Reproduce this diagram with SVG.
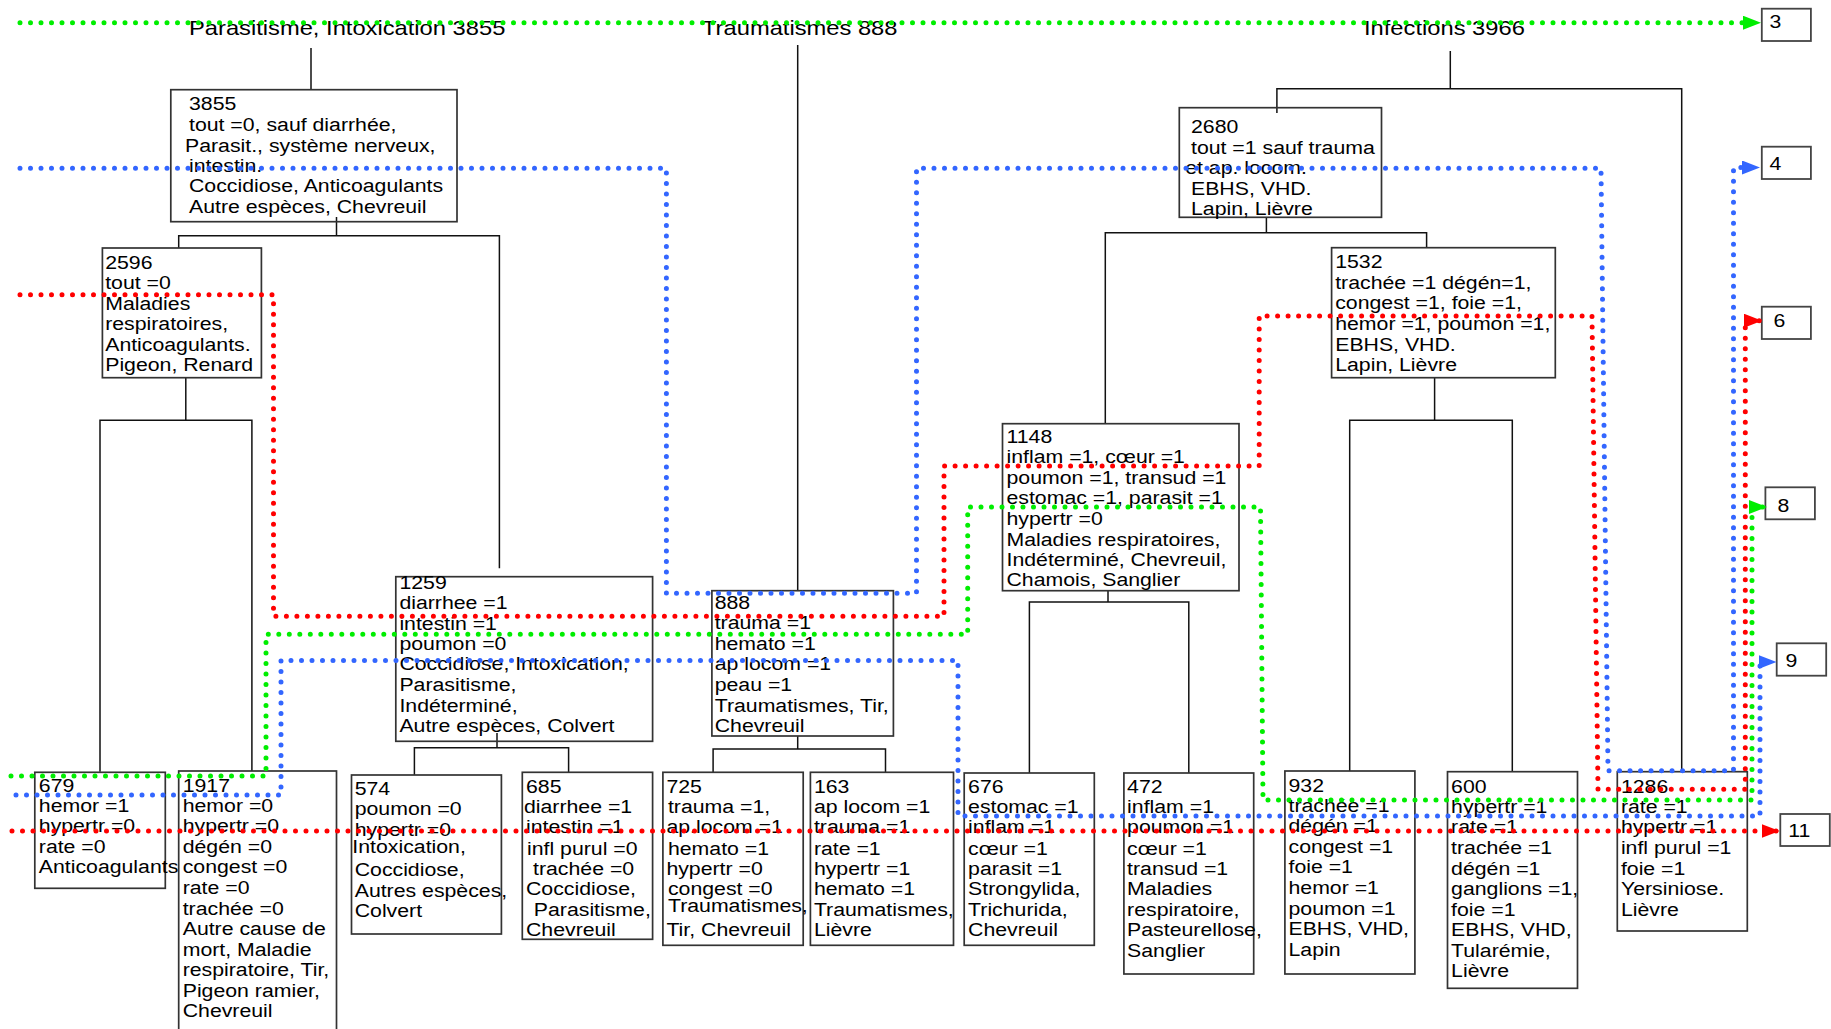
<svg xmlns="http://www.w3.org/2000/svg" width="1831" height="1029" viewBox="0 0 1831 1029">
<style>
.t{font-family:"Liberation Sans",Arial,sans-serif;font-size:19px;fill:#000}
.ttl{font-family:"Liberation Sans",Arial,sans-serif;font-size:21px;fill:#000}
.box{fill:none;stroke:#333;stroke-width:1.7}
.lbl{fill:#fff;stroke:#444;stroke-width:1.8}
.edge{fill:none;stroke:#111;stroke-width:1.5}
.dot{fill:none;stroke-width:5;stroke-linecap:round;stroke-dasharray:0 10.5}
.g{stroke:#00ee00}.b{stroke:#3366ff}.r{stroke:#ff0000}
</style>
<defs>
<marker id="ag" markerUnits="userSpaceOnUse" markerWidth="18" markerHeight="14" refX="18" refY="7" orient="auto"><path d="M0,0 L18,7 L0,14 z" fill="#00ee00"/></marker>
<marker id="ab" markerUnits="userSpaceOnUse" markerWidth="18" markerHeight="14" refX="18" refY="7" orient="auto"><path d="M0,0 L18,7 L0,14 z" fill="#3366ff"/></marker>
<marker id="ar" markerUnits="userSpaceOnUse" markerWidth="18" markerHeight="14" refX="18" refY="7" orient="auto"><path d="M0,0 L18,7 L0,14 z" fill="#ff0000"/></marker>
</defs>
<rect width="1831" height="1029" fill="#fff"/>

<g id="titles">
<text class="ttl" transform="translate(189,35) scale(1.13,1)">Parasitisme, Intoxication 3855</text>
<text class="ttl" transform="translate(702,35) scale(1.13,1)">Traumatismes 888</text>
<text class="ttl" transform="translate(1364,35) scale(1.13,1)">Infections 3966</text>
</g>

<g id="tree-edges" class="edge">
<path d="M311 48 V89.7"/>
<path d="M336.5 217 V235.7"/>
<path d="M178.7 248 V235.7 H499.4 V568.3"/>
<path d="M185.8 377.7 V420.3"/>
<path d="M100 771.7 V420.3 H251.9 V771"/>
<path d="M497 733 V747.7"/>
<path d="M414.4 775 V747.7 H568.6 V772.3"/>
<path d="M797.7 45 V590.7"/>
<path d="M797.7 736 V749"/>
<path d="M713.1 772.3 V749 H885.5 V772.3"/>
<path d="M1450.3 51 V88.7"/>
<path d="M1276.9 113 V88.7 H1681.7 V771.7"/>
<path d="M1266.4 217.3 V232.7"/>
<path d="M1105.3 423.7 V232.7 H1426.6 V247.7"/>
<path d="M1434.6 377.7 V420.3"/>
<path d="M1349.7 771 V420.3 H1512.3 V771.7"/>
<path d="M1108 590.7 V602"/>
<path d="M1029.4 773 V602 H1188.8 V773"/>
</g>

<g id="n3855">
<rect class="box" x="170.8" y="89.7" width="286.2" height="132"/>
<text class="t" transform="translate(189,0) scale(1.12,1)"><tspan x="0" y="110">3855</tspan><tspan x="0" y="131">tout =0, sauf diarrhée,</tspan><tspan x="-3.6" y="151.7">Parasit., système nerveux,</tspan><tspan x="0" y="171.7">intestin.</tspan><tspan x="0" y="192">Coccidiose, Anticoagulants</tspan><tspan x="0" y="212.7">Autre espèces, Chevreuil</tspan></text>
</g>

<g id="n2596">
<rect class="box" x="102.4" y="248" width="159" height="129.7"/>
<text class="t" transform="translate(105.2,0) scale(1.12,1)"><tspan x="0" y="268.7">2596</tspan><tspan x="0" y="289.3">tout =0</tspan><tspan x="0" y="310">Maladies</tspan><tspan x="0" y="330.3">respiratoires,</tspan><tspan x="0" y="350.7">Anticoagulants.</tspan><tspan x="0" y="370.7">Pigeon, Renard</tspan></text>
</g>

<g id="n679">
<rect class="box" x="34.8" y="772.3" width="130.5" height="116"/>
<text class="t" transform="translate(38.8,0) scale(1.12,1)"><tspan x="0" y="791.7">679</tspan><tspan x="0" y="811.7">hemor =1</tspan><tspan x="0" y="832.3">hypertr =0</tspan><tspan x="0" y="853.3">rate =0</tspan><tspan x="0" y="873.3">Anticoagulants</tspan></text>
</g>

<g id="n1917">
<rect class="box" x="178.7" y="771" width="157.8" height="270"/>
<text class="t" transform="translate(182.7,0) scale(1.12,1)"><tspan x="0" y="791.7">1917</tspan><tspan x="0" y="811.7">hemor =0</tspan><tspan x="0" y="832.3">hypertr =0</tspan><tspan x="0" y="853.3">dégén =0</tspan><tspan x="0" y="873.3">congest =0</tspan><tspan x="0" y="894">rate =0</tspan><tspan x="0" y="914.7">trachée =0</tspan><tspan x="0" y="935">Autre cause de</tspan><tspan x="0" y="956">mort, Maladie</tspan><tspan x="0" y="976">respiratoire, Tir,</tspan><tspan x="0" y="996.7">Pigeon ramier,</tspan><tspan x="0" y="1016.7">Chevreuil</tspan></text>
</g>

<g id="n1259">
<rect class="box" x="395.8" y="576.7" width="256.8" height="164.6"/>
<text class="t" transform="translate(399.4,0) scale(1.12,1)"><tspan x="0" y="589">1259</tspan><tspan x="0" y="609">diarrhee =1</tspan><tspan x="0" y="630">intestin =1</tspan><tspan x="0" y="650">poumon =0</tspan><tspan x="0" y="670">Coccidiose, Intoxication,</tspan><tspan x="0" y="691">Parasitisme,</tspan><tspan x="0" y="711.7">Indéterminé,</tspan><tspan x="0" y="731.7">Autre espèces, Colvert</tspan></text>
</g>

<g id="n574">
<rect class="box" x="351.5" y="775" width="149.9" height="159"/>
<text class="t" transform="translate(354.7,0) scale(1.12,1)"><tspan x="0" y="795">574</tspan><tspan x="0" y="815">poumon =0</tspan><tspan x="0" y="835.7">hypertr =0</tspan><tspan x="-2.1" y="853.3">Intoxication,</tspan><tspan x="0" y="876">Coccidiose,</tspan><tspan x="0" y="896.7">Autres espèces,</tspan><tspan x="0" y="917.3">Colvert</tspan></text>
</g>

<g id="n685">
<rect class="box" x="522.3" y="772.3" width="130.3" height="167"/>
<text class="t" transform="translate(526,0) scale(1.12,1)"><tspan x="0" y="793.3">685</tspan><tspan x="-1.8" y="813.3">diarrhee =1</tspan><tspan x="0" y="833.3">intestin =1</tspan><tspan x="0.9" y="855">infl purul =0</tspan><tspan x="6.3" y="875">trachée =0</tspan><tspan x="0" y="895">Coccidiose,</tspan><tspan x="7" y="915.7">Parasitisme,</tspan><tspan x="0" y="936">Chevreuil</tspan></text>
</g>

<g id="n888">
<rect class="box" x="711.9" y="590.7" width="181.5" height="145.3"/>
<text class="t" transform="translate(714.7,0) scale(1.12,1)"><tspan x="0" y="609.3">888</tspan><tspan x="0" y="629.3">trauma =1</tspan><tspan x="0" y="650">hemato =1</tspan><tspan x="0" y="670">ap locom =1</tspan><tspan x="0" y="691">peau =1</tspan><tspan x="0" y="711.7">Traumatismes, Tir,</tspan><tspan x="0" y="731.7">Chevreuil</tspan></text>
</g>

<g id="n725">
<rect class="box" x="662.9" y="772.3" width="140.3" height="173"/>
<text class="t" transform="translate(666.4,0) scale(1.12,1)"><tspan x="0" y="793.3">725</tspan><tspan x="1.4" y="813.3">trauma =1,</tspan><tspan x="0" y="833.3">ap.locom =1</tspan><tspan x="1.4" y="855">hemato =1</tspan><tspan x="0" y="875">hypertr =0</tspan><tspan x="1.4" y="895">congest =0</tspan><tspan x="1.4" y="912.5">Traumatismes,</tspan><tspan x="0" y="936">Tir, Chevreuil</tspan></text>
</g>

<g id="n163">
<rect class="box" x="810.4" y="772.3" width="143.1" height="173"/>
<text class="t" transform="translate(813.9,0) scale(1.12,1)"><tspan x="0" y="793.3">163</tspan><tspan x="0" y="813.3">ap locom =1</tspan><tspan x="0" y="833.3">trauma =1</tspan><tspan x="0" y="855">rate =1</tspan><tspan x="0" y="875">hypertr =1</tspan><tspan x="0" y="895">hemato =1</tspan><tspan x="0" y="915.7">Traumatismes,</tspan><tspan x="0" y="936">Lièvre</tspan></text>
</g>

<g id="n2680">
<rect class="box" x="1179.3" y="107.7" width="202.2" height="109.6"/>
<text class="t" transform="translate(1191,0) scale(1.12,1)"><tspan x="0" y="133.3">2680</tspan><tspan x="0" y="154">tout =1 sauf trauma</tspan><tspan x="-5.2" y="174">et ap. locom.</tspan><tspan x="0" y="195">EBHS, VHD.</tspan><tspan x="0" y="215">Lapin, Lièvre</tspan></text>
</g>

<g id="n1532">
<rect class="box" x="1331.6" y="247.7" width="223.7" height="130"/>
<text class="t" transform="translate(1335.2,0) scale(1.12,1)"><tspan x="0" y="268.3">1532</tspan><tspan x="0" y="289">trachée =1 dégén=1,</tspan><tspan x="0" y="309.3">congest =1, foie =1,</tspan><tspan x="0" y="330">hemor =1, poumon =1,</tspan><tspan x="0" y="350.7">EBHS, VHD.</tspan><tspan x="0" y="370.7">Lapin, Lièvre</tspan></text>
</g>

<g id="n1148">
<rect class="box" x="1002.5" y="423.7" width="236.5" height="167"/>
<text class="t" transform="translate(1006.5,0) scale(1.12,1)"><tspan x="0" y="442.7">1148</tspan><tspan x="0" y="463.3">inflam =1, cœur =1</tspan><tspan x="0" y="484">poumon =1, transud =1</tspan><tspan x="0" y="504.3">estomac =1, parasit =1</tspan><tspan x="0" y="525">hypertr =0</tspan><tspan x="0" y="545.7">Maladies respiratoires,</tspan><tspan x="0" y="565.7">Indéterminé, Chevreuil,</tspan><tspan x="0" y="585.7">Chamois, Sanglier</tspan></text>
</g>

<g id="n676">
<rect class="box" x="964.2" y="773" width="130.1" height="172.3"/>
<text class="t" transform="translate(968.1,0) scale(1.12,1)"><tspan x="0" y="793.3">676</tspan><tspan x="0" y="813.3">estomac =1</tspan><tspan x="0" y="833.3">inflam =1</tspan><tspan x="0" y="855">cœur =1</tspan><tspan x="0" y="875">parasit =1</tspan><tspan x="0" y="895">Strongylida,</tspan><tspan x="0" y="915.7">Trichurida,</tspan><tspan x="0" y="936">Chevreuil</tspan></text>
</g>

<g id="n472">
<rect class="box" x="1123.9" y="773" width="129.8" height="201"/>
<text class="t" transform="translate(1127.1,0) scale(1.12,1)"><tspan x="0" y="793.3">472</tspan><tspan x="0" y="813.3">inflam =1</tspan><tspan x="0" y="833.3">poumon =1</tspan><tspan x="0" y="855">cœur =1</tspan><tspan x="0" y="875">transud =1</tspan><tspan x="0" y="895">Maladies</tspan><tspan x="0" y="915.7">respiratoire,</tspan><tspan x="0" y="936">Pasteurellose,</tspan><tspan x="0" y="956.7">Sanglier</tspan></text>
</g>

<g id="n932">
<rect class="box" x="1284.9" y="771" width="130" height="203"/>
<text class="t" transform="translate(1288.5,0) scale(1.12,1)"><tspan x="0" y="791.7">932</tspan><tspan x="0" y="811.7">trachée =1</tspan><tspan x="0" y="832.3">dégén =1</tspan><tspan x="0" y="853.3">congest =1</tspan><tspan x="0" y="873.3">foie =1</tspan><tspan x="0" y="894">hemor =1</tspan><tspan x="0" y="914.7">poumon =1</tspan><tspan x="0" y="935">EBHS, VHD,</tspan><tspan x="0" y="956">Lapin</tspan></text>
</g>

<g id="n600">
<rect class="box" x="1447.5" y="771.7" width="130" height="216.6"/>
<text class="t" transform="translate(1451.1,0) scale(1.12,1)"><tspan x="0" y="793.3">600</tspan><tspan x="0" y="812.7">hypertr =1</tspan><tspan x="0" y="833.3">rate =1</tspan><tspan x="0" y="854.3">trachée =1</tspan><tspan x="0" y="875">dégén =1</tspan><tspan x="0" y="895.3">ganglions =1,</tspan><tspan x="0" y="915.7">foie =1</tspan><tspan x="0" y="936">EBHS, VHD,</tspan><tspan x="0" y="956.7">Tularémie,</tspan><tspan x="0" y="976.7">Lièvre</tspan></text>
</g>

<g id="n1286">
<rect class="box" x="1617.3" y="771.7" width="130" height="159.3"/>
<text class="t" transform="translate(1620.9,0) scale(1.12,1)"><tspan x="0" y="793.3">1286</tspan><tspan x="0" y="812.7">rate =1</tspan><tspan x="0" y="833.3">hypertr =1</tspan><tspan x="0" y="854.3">infl purul =1</tspan><tspan x="0" y="875">foie =1</tspan><tspan x="0" y="895.3">Yersiniose.</tspan><tspan x="0" y="915.7">Lièvre</tspan></text>
</g>

<g id="out3"><rect class="lbl" x="1761.8" y="8.7" width="49.1" height="32.3"/><text class="t" transform="translate(1769.4,28.3) scale(1.12,1)">3</text></g>
<g id="out4"><rect class="lbl" x="1761.8" y="146.7" width="49.1" height="32.3"/><text class="t" transform="translate(1769.4,170) scale(1.12,1)">4</text></g>
<g id="out6"><rect class="lbl" x="1761.8" y="306.7" width="49.1" height="32.3"/><text class="t" transform="translate(1773.4,326.7) scale(1.12,1)">6</text></g>
<g id="out8"><rect class="lbl" x="1765.4" y="487.3" width="49.5" height="32"/><text class="t" transform="translate(1777.5,511.7) scale(1.12,1)">8</text></g>
<g id="out9"><rect class="lbl" x="1776.7" y="643.3" width="49.5" height="32.4"/><text class="t" transform="translate(1785.5,666.7) scale(1.12,1)">9</text></g>
<g id="out11"><rect class="lbl" x="1780.3" y="814" width="49.5" height="32"/><text class="t" transform="translate(1788.3,836.7) scale(1.12,1)">11</text></g>

<g id="paths">
<path class="dot g" marker-end="url(#ag)" d="M20 22.7 H1761"/>
<path class="dot b" marker-end="url(#ab)" d="M20 168.3 H666.4 V593.3 H916.5 V168.3 H1601 L1608 770.7 H1733.5 V167.5 H1760"/>
<path class="dot r" marker-end="url(#ar)" d="M20 294.7 H273.5 V616.3 H944 V466 H1259.2 V316 H1592 L1598 789.3 H1745.3 V320.7 H1762"/>
<path class="dot g" marker-end="url(#ag)" d="M11 776 H266 V634.3 H967.7 V507 H1260.5 L1263 800 H1752 V507 H1767"/>
<path class="dot b" marker-end="url(#ab)" d="M16 795 H281 V660.5 H958 V816 H1760 V662 H1776.5"/>
<path class="dot r" marker-end="url(#ar)" d="M12 831 H1779.5"/>
</g>
</svg>
